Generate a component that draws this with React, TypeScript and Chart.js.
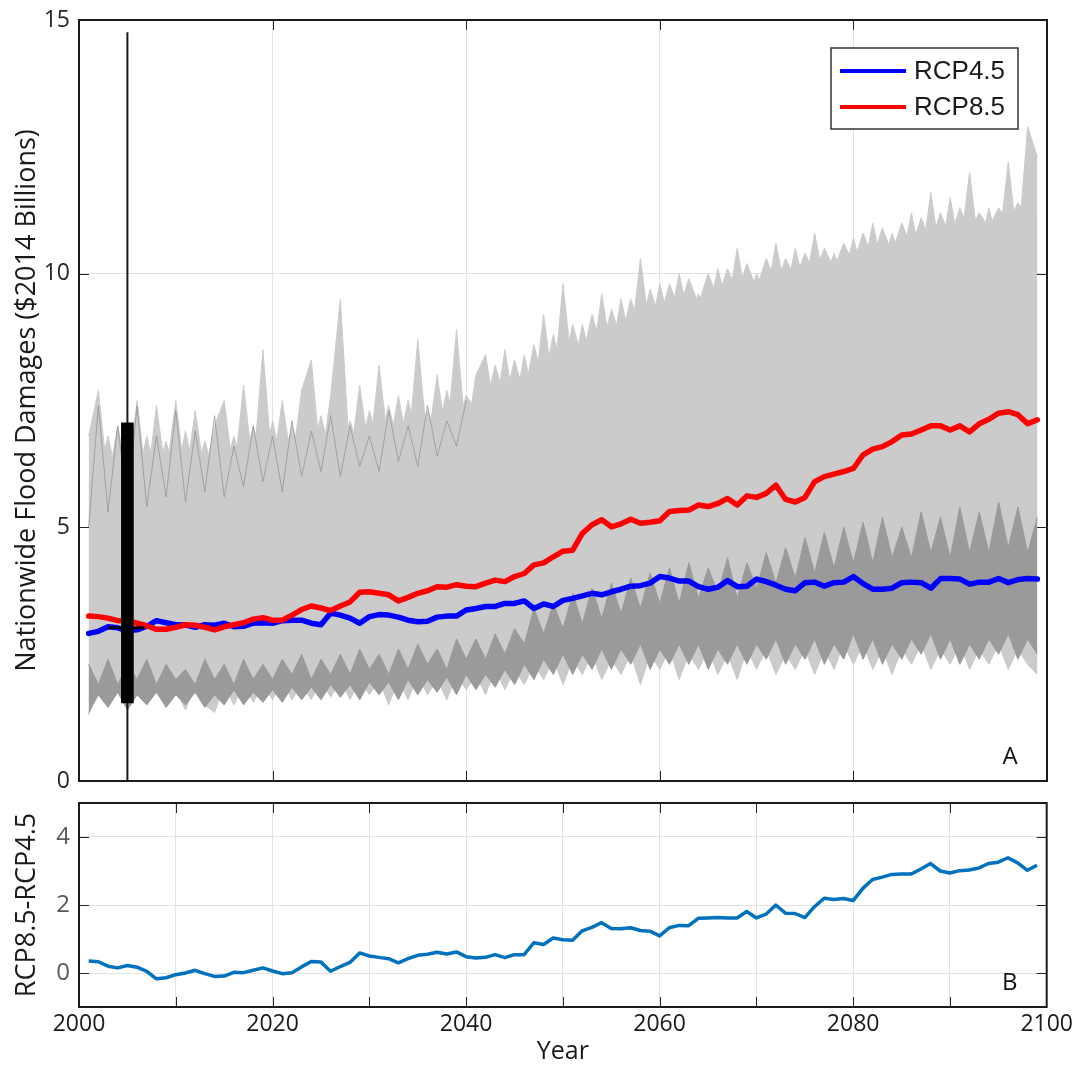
import { useEffect, useRef } from "react";
import { Chart, registerables } from "chart.js";
Chart.register(...registerables);

// ---------------- data (annual values, 2001-2099) ----------------
const startYear = 2001;

const rcp45 = [
  2.91, 2.95, 3.04, 3.02, 2.96, 2.98, 3.05, 3.16, 3.12, 3.08,
  3.08, 3.03, 3.08, 3.07, 3.11, 3.04, 3.05, 3.11, 3.12, 3.11,
  3.16, 3.17, 3.17, 3.11, 3.08, 3.31, 3.27, 3.21, 3.11, 3.24,
  3.28, 3.27, 3.23, 3.17, 3.14, 3.15, 3.23, 3.25, 3.25, 3.37,
  3.40, 3.44, 3.44, 3.50, 3.50, 3.55, 3.40, 3.49, 3.44, 3.56,
  3.60, 3.65, 3.70, 3.67, 3.73, 3.78, 3.84, 3.85, 3.90, 4.03,
  4.00, 3.94, 3.94, 3.83, 3.78, 3.82, 3.95, 3.83, 3.84, 3.98,
  3.93, 3.86, 3.78, 3.75, 3.91, 3.92, 3.84, 3.91, 3.92, 4.03,
  3.89, 3.78, 3.78, 3.80, 3.91, 3.92, 3.91, 3.80, 3.99, 3.99,
  3.98, 3.88, 3.92, 3.92, 3.99, 3.91, 3.97, 3.99, 3.98,
];

const rcp85 = [
  3.25, 3.24, 3.21, 3.16, 3.16, 3.11, 3.06, 2.99, 2.99, 3.03,
  3.08, 3.07, 3.03, 2.98, 3.04, 3.08, 3.12, 3.19, 3.22, 3.17,
  3.17, 3.27, 3.38, 3.45, 3.41, 3.36, 3.45, 3.53, 3.72, 3.73,
  3.70, 3.67, 3.55, 3.62, 3.70, 3.75, 3.83, 3.82, 3.87, 3.84,
  3.83, 3.90, 3.96, 3.93, 4.03, 4.09, 4.26, 4.30, 4.42, 4.53,
  4.55, 4.88, 5.05, 5.15, 5.01, 5.07, 5.16, 5.08, 5.10, 5.13,
  5.31, 5.33, 5.34, 5.44, 5.41, 5.47, 5.57, 5.44, 5.62, 5.59,
  5.67, 5.83, 5.55, 5.50, 5.59, 5.90, 6.00, 6.05, 6.10, 6.16,
  6.43, 6.54, 6.59, 6.69, 6.82, 6.84, 6.92, 7.00, 7.00, 6.92,
  7.00, 6.88, 7.04, 7.13, 7.25, 7.28, 7.22, 7.04, 7.12,
];

const difference = [
  0.35, 0.33, 0.20, 0.15, 0.22, 0.17, 0.05, -0.17, -0.14, -0.05,
  0.00, 0.08, -0.02, -0.10, -0.09, 0.02, 0.01, 0.08, 0.15, 0.06,
  -0.02, 0.01, 0.18, 0.34, 0.32, 0.05, 0.19, 0.31, 0.59, 0.50,
  0.46, 0.42, 0.30, 0.42, 0.52, 0.55, 0.61, 0.56, 0.62, 0.48,
  0.44, 0.46, 0.54, 0.45, 0.54, 0.54, 0.89, 0.84, 1.03, 0.98,
  0.96, 1.24, 1.34, 1.48, 1.31, 1.30, 1.33, 1.25, 1.23, 1.09,
  1.33, 1.40, 1.39, 1.61, 1.62, 1.63, 1.62, 1.62, 1.81, 1.62,
  1.73, 2.00, 1.76, 1.75, 1.63, 1.95, 2.20, 2.16, 2.19, 2.13,
  2.49, 2.75, 2.82, 2.90, 2.91, 2.91, 3.06, 3.22, 3.00, 2.94,
  3.01, 3.03, 3.09, 3.22, 3.26, 3.39, 3.24, 3.02, 3.17,
];

// ensemble envelopes
const lightUpper = [
  6.8, 7.7, 5.9, 7.0, 5.9, 7.5, 5.8, 7.4, 6.0, 7.5,
  5.9, 7.3, 6.0, 7.0, 7.5, 6.0, 7.8, 6.1, 8.5, 6.1,
  7.5, 6.2, 7.7, 8.3, 6.2, 7.6, 9.5, 6.3, 7.8, 6.4,
  8.2, 6.5, 7.6, 6.5, 8.7, 6.6, 8.0, 6.7, 8.9, 6.7,
  8.0, 8.4, 7.2, 8.5, 7.3, 8.4, 7.5, 9.2, 7.7, 9.8,
  8.0, 9.0, 8.2, 9.6, 8.4, 9.5, 8.6, 10.3, 8.8, 9.8,
  9.0, 10.0, 9.1, 9.6, 9.2, 10.1, 9.3, 10.5, 9.4, 10.0,
  9.5, 10.6, 9.6, 10.5, 9.7, 10.8, 9.8, 10.4, 9.9, 10.7,
  10.0, 11.0, 10.1, 10.8, 10.2, 11.2, 10.2, 11.6, 10.3, 11.5,
  10.4, 12.0, 10.4, 11.3, 10.5, 12.2, 10.5, 12.9, 12.3,
];
const lightUpperAlt = [
  5.8, 6.0, 6.8, 5.9, 6.9, 5.9, 6.8, 6.0, 6.7, 5.9,
  6.9, 6.0, 6.7, 6.0, 6.1, 6.8, 6.1, 7.0, 6.2, 7.1,
  6.2, 7.0, 6.3, 6.4, 7.2, 6.4, 6.5, 7.1, 6.5, 7.3,
  6.6, 7.4, 6.6, 7.5, 6.7, 7.3, 6.8, 7.7, 6.9, 7.6,
  7.3, 7.4, 8.2, 7.5, 8.3, 7.6, 8.6, 7.8, 8.8, 8.0,
  9.0, 8.3, 9.2, 8.5, 9.3, 8.7, 9.5, 8.9, 9.7, 9.1,
  9.8, 9.3, 9.9, 9.4, 10.0, 9.5, 10.1, 9.6, 10.2, 9.7,
  10.3, 9.8, 10.3, 9.9, 10.4, 10.0, 10.5, 10.1, 10.6, 10.2,
  10.8, 10.3, 10.9, 10.4, 11.0, 10.5, 11.1, 10.6, 11.2, 10.7,
  11.3, 10.8, 11.2, 10.9, 11.3, 11.0, 11.4, 11.1, 11.0,
];
const lightLower = [
  1.3, 1.8, 1.5, 1.9, 1.4, 1.8, 1.5, 1.9, 1.5, 1.8,
  1.4, 1.9, 1.5, 1.35, 1.9, 1.5, 1.9, 1.55, 1.9, 1.6,
  2.0, 1.6, 1.9, 1.6, 2.0, 1.65, 2.0, 1.6, 2.0, 1.7,
  2.0, 1.5, 2.0, 1.6, 2.1, 1.7, 2.0, 1.6, 2.1, 1.8,
  2.1, 1.7, 2.2, 1.8, 2.2, 1.9, 2.3, 2.0, 2.4, 1.9,
  2.4, 2.1, 2.5, 2.0, 2.4, 2.1, 2.5, 1.9, 2.5, 2.2,
  2.6, 2.0, 2.5, 2.2, 2.6, 2.1, 2.5, 2.0, 2.6, 2.2,
  2.6, 2.1, 2.5, 2.2, 2.6, 2.1, 2.6, 2.2, 2.7, 2.3,
  2.7, 2.2, 2.6, 2.1, 2.6, 2.3, 2.7, 2.2, 2.6, 2.3,
  2.7, 2.2, 2.6, 2.3, 2.7, 2.2, 2.6, 2.3, 2.1,
];
const darkUpper = [
  2.3, 1.9, 2.4, 1.9, 2.3, 2.0, 2.4, 1.9, 2.3, 2.0,
  2.2, 1.9, 2.4, 2.0, 2.3, 1.9, 2.4, 2.0, 2.3, 2.0,
  2.4, 2.1, 2.5, 2.0, 2.4, 2.1, 2.5, 2.1, 2.6, 2.2,
  2.5, 2.1, 2.6, 2.2, 2.7, 2.3, 2.6, 2.2, 2.8, 2.4,
  2.8, 2.4, 2.9, 2.5, 3.0, 2.7, 3.4, 2.9, 3.5, 3.0,
  3.7, 3.1, 3.8, 3.2, 3.9, 3.3, 4.0, 3.4, 4.1, 3.5,
  4.2, 3.5, 4.3, 3.6, 4.2, 3.7, 4.4, 3.6, 4.3, 3.8,
  4.5, 3.9, 4.6, 4.0, 4.8, 4.1, 4.9, 4.2, 5.0, 4.3,
  5.1, 4.3, 5.2, 4.4, 5.0, 4.4, 5.3, 4.5, 5.2, 4.4,
  5.4, 4.5, 5.3, 4.5, 5.5, 4.6, 5.4, 4.5, 5.2,
];
const darkLower = [
  1.35, 1.7, 1.45, 1.75, 1.4, 1.7, 1.5, 1.75, 1.45, 1.7,
  1.5, 1.75, 1.45, 1.7, 1.5, 1.8, 1.5, 1.75, 1.55, 1.8,
  1.55, 1.85, 1.6, 1.85, 1.6, 1.9, 1.65, 1.9, 1.6, 1.95,
  1.7, 1.95, 1.6, 2.0, 1.7, 2.0, 1.75, 2.05, 1.7, 2.1,
  1.8, 2.1, 1.85, 2.2, 1.9, 2.3, 2.0, 2.4, 2.1, 2.5,
  2.1, 2.5, 2.2, 2.6, 2.2, 2.6, 2.3, 2.7, 2.2, 2.6,
  2.3, 2.7, 2.3, 2.7, 2.2, 2.6, 2.3, 2.7, 2.3, 2.7,
  2.4, 2.8, 2.3, 2.7, 2.4, 2.8, 2.3, 2.7, 2.4, 2.9,
  2.4, 2.8, 2.3, 2.7, 2.4, 2.8, 2.5, 2.9, 2.4, 2.8,
  2.3, 2.7, 2.4, 2.8, 2.5, 2.9, 2.4, 2.8, 2.5,
];
// darker spaghetti members visible in the upper envelope (2001-2040)
const darkSpikes = [
  5.0, 7.4, 5.3, 7.0, 5.5, 7.4, 5.4, 6.8, 5.6, 7.3,
  5.5, 6.9, 5.7, 7.2, 5.6, 6.6, 5.8, 7.0, 5.9, 6.8,
  5.7, 7.1, 6.0, 6.9, 6.1, 7.2, 6.0, 7.0, 6.2, 6.8,
  6.1, 7.3, 6.3, 7.0, 6.2, 7.4, 6.4, 7.1, 6.6, 7.5,
];

// box plot of the present-day distribution
const boxYear = 2005;
const boxMin = 0;
const boxQ1 = 1.54;
const boxMedian = 3.02;
const boxQ3 = 7.06;
const boxMax = 14.76;
const medianSpan = [2003, 2006.75];

const xTicksA = [2000, 2020, 2040, 2060, 2080, 2100];
const yTicksA = [0, 5, 10, 15];
const xTicksB = [2000, 2010, 2020, 2030, 2040, 2050, 2060, 2070, 2080, 2090, 2100];
const yTicksB = [0, 2, 4];
const legendLabels = ["RCP4.5", "RCP8.5"];

const FONT = "'Open Sans', 'Noto Sans', sans-serif";
const GRID = "#e2e2e2";
const LIGHT = "#cbcbcb";
const DARK = "#9a9a9a";

const toPoints = (arr: number[]) => arr.map((v, i) => ({ x: startYear + i, y: v }));

function framePlugin(panel: string, drawLegend: boolean) {
  return {
    id: "frame" + panel,
    afterDraw(chart: any) {
      const { ctx, chartArea, scales } = chart;
      const { left, right, top, bottom } = chartArea;
      const xs = scales.x;
      const ys = scales.y;
      const tl = 10;
      ctx.save();
      ctx.strokeStyle = "#262626";
      ctx.lineWidth = 1;
      ctx.beginPath();
      xs.ticks.forEach((t: any) => {
        if (t.value <= xs.min || t.value >= xs.max) return;
        const px = Math.round(xs.getPixelForValue(t.value)) + 0.5;
        ctx.moveTo(px, bottom);
        ctx.lineTo(px, bottom - tl);
        ctx.moveTo(px, top);
        ctx.lineTo(px, top + tl);
      });
      ys.ticks.forEach((t: any) => {
        if (t.value <= ys.min || t.value >= ys.max) return;
        const py = Math.round(ys.getPixelForValue(t.value)) + 0.5;
        ctx.moveTo(left, py);
        ctx.lineTo(left + tl, py);
        ctx.moveTo(right, py);
        ctx.lineTo(right - tl, py);
      });
      ctx.stroke();
      ctx.lineWidth = 2;
      ctx.strokeStyle = "#1a1a1a";
      ctx.strokeRect(left, top, right - left, bottom - top);

      ctx.fillStyle = "#111";
      ctx.font = `24px ${FONT}`;
      ctx.textAlign = "center";
      ctx.textBaseline = "middle";
      ctx.fillText(panel, right - 37, bottom - 24);

      if (drawLegend) {
        const bx = right - 216;
        const by = top + 28;
        const bw = 187;
        const bh = 81;
        ctx.fillStyle = "#fff";
        ctx.fillRect(bx, by, bw, bh);
        ctx.lineWidth = 1.5;
        ctx.strokeStyle = "#333";
        ctx.strokeRect(bx, by, bw, bh);
        const items = [
          { label: legendLabels[0], color: "#0000ff" },
          { label: legendLabels[1], color: "#ff0000" },
        ];
        items.forEach((it, i) => {
          const y = by + 23 + i * 36;
          ctx.strokeStyle = it.color;
          ctx.lineWidth = 4;
          ctx.beginPath();
          ctx.moveTo(bx + 9, y);
          ctx.lineTo(bx + 75, y);
          ctx.stroke();
          ctx.fillStyle = "#1a1a1a";
          ctx.font = "26px 'Liberation Sans', Arial, sans-serif";
          ctx.textAlign = "left";
          ctx.textBaseline = "middle";
          ctx.fillText(it.label, bx + 83, y + 1);
        });
      }
      ctx.restore();
    },
  };
}

const fixWidth = (w: number) => (s: any) => {
  s.width = w;
  s.paddingTop = 0;
  s.paddingBottom = 0;
};

export default function App() {
  const refA = useRef<HTMLCanvasElement>(null);
  const refB = useRef<HTMLCanvasElement>(null);

  useEffect(() => {
    const line = (data: any[], color: string, width: number, extra: any = {}) => ({
      type: "line",
      data,
      borderColor: color,
      backgroundColor: color,
      borderWidth: width,
      pointRadius: 0,
      tension: 0,
      fill: false,
      ...extra,
    });

    const chartA = new Chart(refA.current as HTMLCanvasElement, {
      type: "line",
      data: {
        datasets: [
          line(
            [
              { x: medianSpan[0], y: boxMedian },
              { x: medianSpan[1], y: boxMedian },
            ],
            "#000",
            3
          ),
          {
            type: "bar",
            data: [{ x: boxYear, y: [boxQ1, boxQ3] }],
            backgroundColor: "#000",
            borderWidth: 0,
            barThickness: 12,
          },
          line(
            [
              { x: boxYear, y: boxMin },
              { x: boxYear, y: boxMax },
            ],
            "#1a1a1a",
            2
          ),
          line(toPoints(rcp85), "#ff0000", 5.5, { label: legendLabels[1], borderCapStyle: "round", borderJoinStyle: "round" }),
          line(toPoints(rcp45), "#0000ff", 5.5, { label: legendLabels[0], borderCapStyle: "round", borderJoinStyle: "round" }),
          line(toPoints(darkSpikes), "rgba(150,150,150,0.8)", 1),
          line(toPoints(darkUpper), DARK, 1, { fill: "+1", backgroundColor: DARK }),
          line(toPoints(darkLower), DARK, 1),
          line(toPoints(lightUpper), LIGHT, 1, { fill: "+2", backgroundColor: LIGHT }),
          line(toPoints(lightUpperAlt), LIGHT, 1, { fill: "+1", backgroundColor: LIGHT }),
          line(toPoints(lightLower), LIGHT, 1),
        ] as any,
      },
      options: {
        responsive: false,
        animation: false,
        events: [],
        layout: { padding: { left: 0, right: 30, top: 20, bottom: 14 } },
        plugins: { legend: { display: false }, tooltip: { enabled: false } },
        scales: {
          x: {
            type: "linear",
            min: 2000,
            max: 2100,
            offset: false,
            afterBuildTicks: (s: any) => {
              s.ticks = xTicksA.map((v) => ({ value: v }));
            },
            afterFit: (s: any) => {
              s.height = 0;
              s.paddingLeft = 0;
              s.paddingRight = 0;
            },
            ticks: { display: false },
            grid: { color: GRID, drawTicks: false, offset: false },
            border: { display: false },
          },
          y: {
            type: "linear",
            min: 0,
            max: 15,
            afterBuildTicks: (s: any) => {
              s.ticks = yTicksA.map((v) => ({ value: v }));
            },
            afterFit: fixWidth(79),
            ticks: { font: { family: FONT, size: 23 }, color: "#262626", padding: 9 },
            grid: { color: GRID, drawTicks: false },
            border: { display: false },
            title: {
              display: true,
              text: "Nationwide Flood Damages ($2014 Billions)",
              font: { family: FONT, size: 27 },
              color: "#1a1a1a",
              padding: { top: 11, bottom: 0 },
            },
          },
        },
      } as any,
      plugins: [framePlugin("A", true)],
    });

    const chartB = new Chart(refB.current as HTMLCanvasElement, {
      type: "line",
      data: {
        datasets: [line(toPoints(difference), "#0072bd", 3.5, { borderJoinStyle: "round" })] as any,
      },
      options: {
        responsive: false,
        animation: false,
        events: [],
        layout: { padding: { left: 0, right: 30, top: 8, bottom: 0 } },
        plugins: { legend: { display: false }, tooltip: { enabled: false } },
        scales: {
          x: {
            type: "linear",
            min: 2000,
            max: 2100,
            afterBuildTicks: (s: any) => {
              s.ticks = xTicksB.map((v) => ({ value: v }));
            },
            afterFit: (s: any) => {
              s.height = 61;
            },
            ticks: {
              font: { family: FONT, size: 23 },
              color: "#1a1a1a",
              padding: 4,
              maxRotation: 0,
              autoSkip: false,
              callback: (v: any) => (Number(v) % 20 === 0 ? String(v) : ""),
            },
            grid: { color: GRID, drawTicks: false },
            border: { display: false },
            title: {
              display: true,
              text: "Year",
              font: { family: FONT, size: 25 },
              color: "#1a1a1a",
              padding: { top: 0, bottom: 1 },
            },
          },
          y: {
            type: "linear",
            min: -1,
            max: 5,
            afterBuildTicks: (s: any) => {
              s.ticks = yTicksB.map((v) => ({ value: v }));
            },
            afterFit: fixWidth(79),
            ticks: { font: { family: FONT, size: 24 }, color: "#595959", padding: 9 },
            grid: { color: GRID, drawTicks: false },
            border: { display: false },
            title: {
              display: true,
              text: "RCP8.5-RCP4.5",
              font: { family: FONT, size: 27 },
              color: "#1a1a1a",
              padding: { top: 11, bottom: 0 },
            },
          },
        },
      } as any,
      plugins: [framePlugin("B", false)],
    });

    return () => {
      chartA.destroy();
      chartB.destroy();
    };
  }, []);

  return (
    <div style={{ position: "absolute", left: 0, top: 0, width: 1077, height: 1068, background: "#fff" }}>
      <canvas ref={refA} width={1077} height={795} style={{ position: "absolute", left: 0, top: 0 }} />
      <canvas ref={refB} width={1077} height={273} style={{ position: "absolute", left: 0, top: 795 }} />
    </div>
  );
}
